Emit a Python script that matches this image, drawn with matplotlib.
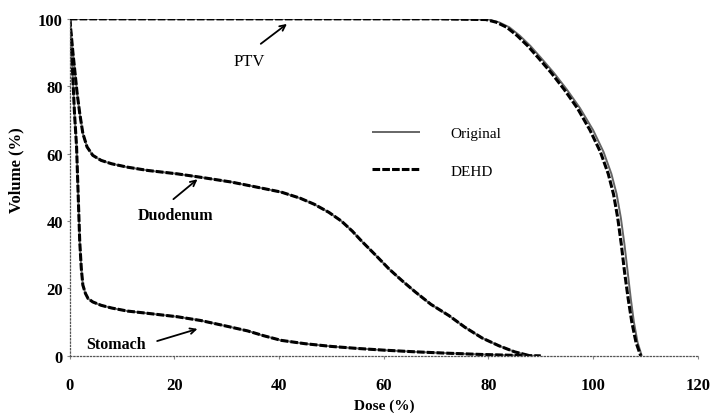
import numpy as np
import matplotlib.pyplot as plt

plt.rcParams['font.family'] = ['Liberation Serif', 'DejaVu Serif']

# PTV, original plan (solid) and DEHD (dashed)
ptv_vol = [100, 100, 99.8, 99, 97.5, 95, 92, 88.5, 84, 79, 73.5, 67, 60.5,
           54, 48, 41, 33, 25, 17, 10, 4, 0]
ptv_dose_orig = [0, 70, 80, 82, 84, 86, 88, 90, 92.5, 95, 97.5, 100, 102,
                 103.5, 104.5, 105.3, 106, 106.6, 107.2, 107.8, 108.5, 109.3]
ptv_dose_dehd = [0, 70, 79.5, 81.5, 83.5, 85.5, 87.5, 89.5, 92, 94.5, 97,
                 99.4, 101.4, 102.9, 103.9, 104.7, 105.4, 106.0, 106.7,
                 107.4, 108.2, 109.1]

# Duodenum
duo_dose = [0, 0.3, 0.6, 1.0, 1.4, 1.9, 2.5, 3.3, 4.4, 6, 8, 11, 15, 20.6,
            25, 30.8, 35, 40.4, 44, 46.7, 49.5, 51.9, 54, 55.8, 58.5, 61,
            63.5, 66, 69, 72.5, 75.5, 78.8, 82, 85, 88]
duo_vol_orig = [100, 95, 90, 84, 78, 72, 66, 62, 59.5, 58, 57, 56, 55, 54,
                53, 51.6, 50.3, 48.6, 46.8, 45, 42.6, 40, 37, 34, 29.8,
                25.8, 22.3, 19, 15.3, 11.9, 8.5, 5.3, 3, 1.2, 0]
duo_vol_dehd = duo_vol_orig

# Stomach
sto_dose = [0, 0.3, 0.6, 0.9, 1.3, 1.6, 1.9, 2.2, 2.5, 3, 3.5, 4.4, 6, 8,
            11, 15, 20.6, 25, 30, 34, 37, 40.4, 45, 50, 55, 60, 66, 72, 79,
            85, 90]
sto_vol_orig = [100, 92, 82, 72, 62, 48, 34, 26, 21, 18.5, 17, 16, 15, 14.2,
                13.3, 12.6, 11.6, 10.5, 8.8, 7.4, 6, 4.6, 3.6, 2.8, 2.2, 1.7,
                1.2, 0.8, 0.4, 0.15, 0]
sto_vol_dehd = sto_vol_orig

x_ticks = [0, 20, 40, 60, 80, 100, 120]
y_ticks = [0, 20, 40, 60, 80, 100]


fig = plt.figure(figsize=(7.12, 4.14), dpi=100)
ax = fig.add_axes([0.098, 0.138, 0.882, 0.814])

orig = dict(color='#666666', lw=1.4, solid_capstyle='butt')
dehd = dict(color='black', lw=2.2, ls=(0, (2.5, 0.7)))

ax.plot(ptv_dose_orig, ptv_vol, label='Original', **orig)
ax.plot(ptv_dose_dehd, ptv_vol, label='DEHD', **dehd)
ax.plot(duo_dose, duo_vol_orig, **orig)
ax.plot(duo_dose, duo_vol_dehd, **dehd)
ax.plot(sto_dose, sto_vol_orig, **orig)
ax.plot(sto_dose, sto_vol_dehd, **dehd)

ax.set_xlim(0, 120)
ax.set_ylim(0, 100)
ax.set_xticks(x_ticks)
ax.set_yticks(y_ticks)

for s in ['top', 'right']:
    ax.spines[s].set_visible(False)
for s in ['left', 'bottom']:
    ax.spines[s].set_linestyle(':')
    ax.spines[s].set_color('#555555')
    ax.spines[s].set_linewidth(0.9)

ax.tick_params(axis='both', length=2, width=0.8, color='#888888',
               labelsize=12)
ax.tick_params(axis='x', pad=13)
ax.tick_params(axis='y', pad=3)
for lab in ax.get_xticklabels() + ax.get_yticklabels():
    lab.set_fontweight('bold')

ax.set_xlabel('Dose (%)', fontsize=11, fontweight='bold')
ax.set_ylabel('Volume (%)', fontsize=12, fontweight='bold')
ax.xaxis.set_label_coords(0.5, -0.128)
ax.yaxis.set_label_coords(-0.072, 0.555)

arrow = dict(arrowstyle='->', color='black', lw=1.3, shrinkA=0, shrinkB=0)
ax.annotate('', xy=(41.5, 98.5), xytext=(36.5, 92.6), arrowprops=arrow)
ax.text(34.2, 87.4, 'PTV', fontsize=12, ha='center', va='center')
ax.annotate('', xy=(24.4, 52.4), xytext=(19.8, 46.5), arrowprops=arrow)
ax.text(20.2, 41.8, 'Duodenum', fontsize=11.5, fontweight='bold',
        ha='center', va='center')
ax.annotate('', xy=(24.4, 8.0), xytext=(16.7, 4.4), arrowprops=arrow)
ax.text(8.8, 3.6, 'Stomach', fontsize=11.5, fontweight='bold',
        ha='center', va='center')

ax.legend(loc='upper left', bbox_to_anchor=(0.482, 0.68), frameon=False,
          fontsize=11, handlelength=3.1, handletextpad=2.0, labelspacing=1.55,
          borderpad=0, borderaxespad=0)

fig.savefig('out.png', dpi=100)
